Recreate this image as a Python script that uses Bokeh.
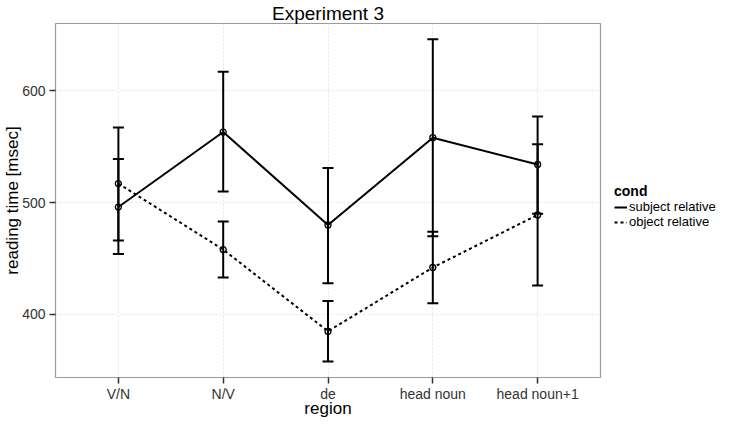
from bokeh.plotting import figure
from bokeh.layouts import row
from bokeh.models import (Range1d, FixedTicker, Whisker, ColumnDataSource, Legend,
                          LegendItem, TeeHead)
from bokeh.embed import file_html
from bokeh.resources import INLINE

# ---- data ----
regions = ["V/N", "N/V", "de", "head noun", "head noun+1"]
conditions = ["subject relative", "object relative"]
subj_mean = [496, 563, 480, 558, 534]
subj_lower = [454, 510, 428, 470, 490]
subj_upper = [539, 617, 531, 646, 577]
obj_mean = [517, 458, 385, 442, 489]
obj_lower = [466, 433, 358, 410, 426]
obj_upper = [567, 483, 412, 474, 552]
y_ticks = [400, 500, 600]

FONT = "Liberation Sans"
xpos = list(range(1, len(regions) + 1))

p = figure(width=603, height=420,
           x_range=Range1d(0.4, len(regions) + 0.6),
           y_range=Range1d(343.7, 660),
           output_backend="svg", toolbar_location=None,
           min_border_left=49, min_border_right=3,
           min_border_top=14, min_border_bottom=38,
           title="Experiment 3")

p.title.align = "center"
p.title.text_font = FONT
p.title.text_font_size = "19px"
p.title.text_font_style = "normal"
p.title.text_color = "black"
p.title.standoff = 0
p.title.offset = 0

p.background_fill_color = "white"
p.border_fill_color = "white"
p.outline_line_color = "#9a9a9a"
p.outline_line_width = 1.2

# axes
p.xaxis.ticker = FixedTicker(ticks=xpos)
p.xaxis.major_label_overrides = {x: r for x, r in zip(xpos, regions)}
p.yaxis.ticker = FixedTicker(ticks=y_ticks)
for ax in (p.xaxis, p.yaxis):
    ax.axis_line_color = None
    ax.major_tick_line_color = "#333333"
    ax.major_tick_line_width = 1.5
    ax.major_tick_out = 6
    ax.major_tick_in = 0
    ax.minor_tick_line_color = None
    ax.major_label_text_font = FONT
    ax.major_label_text_font_size = "14px"
    ax.major_label_text_color = "#333333"
    ax.axis_label_text_font = FONT
    ax.axis_label_text_font_size = "17px"
    ax.axis_label_text_font_style = "normal"
    ax.axis_label_text_color = "black"
p.xaxis.major_label_standoff = 2
p.xaxis.axis_label_standoff = -6
p.yaxis.major_label_standoff = 4
p.yaxis.axis_label_standoff = -3
p.xaxis.axis_label = "region"
p.yaxis.axis_label = "reading time [msec]"

for g in (p.xgrid, p.ygrid):
    g.grid_line_color = "#e4e4e4"
    g.grid_line_width = 1
    g.grid_line_dash = "2 2"

# error bars
for lo, hi in ((subj_lower, subj_upper), (obj_lower, obj_upper)):
    src = ColumnDataSource(dict(x=xpos, lower=lo, upper=hi))
    w = Whisker(source=src, base="x", lower="lower", upper="upper",
                line_color="black", line_width=2,
                upper_head=TeeHead(size=11, line_color="black", line_width=2),
                lower_head=TeeHead(size=11, line_color="black", line_width=2))
    p.add_layout(w)

# lines and points
line_styles = [dict(line_color="black", line_width=2),
               dict(line_color="black", line_width=2, line_dash="3 3")]
p.line(xpos, subj_mean, **line_styles[0])
p.line(xpos, obj_mean, **line_styles[1])
p.scatter(xpos, subj_mean, marker="circle", size=6, fill_color=None,
          line_color="black", line_width=1.3)
p.scatter(xpos, obj_mean, marker="circle", size=6, fill_color=None,
          line_color="black", line_width=1.3)

# legend lives in a narrow companion figure at the right
lf = figure(width=124, height=420, x_range=Range1d(0, 1), y_range=Range1d(0, 1),
            x_axis_type=None, y_axis_type=None,
            output_backend="svg", toolbar_location=None,
            min_border_left=0, min_border_right=0,
            min_border_top=0, min_border_bottom=0)
lf.outline_line_color = None
lf.grid.visible = False
k_subj = lf.line(xpos, subj_mean, **line_styles[0])
k_obj = lf.line(xpos, obj_mean, **line_styles[1])

legend = Legend(items=[LegendItem(label=conditions[0], renderers=[k_subj]),
                       LegendItem(label=conditions[1], renderers=[k_obj])],
                title="cond", location=(11, 148), orientation="vertical",
                margin=0, padding=0, spacing=0,
                border_line_color=None, background_fill_alpha=0,
                glyph_width=13, glyph_height=12, label_height=12,
                label_standoff=2, title_standoff=0,
                label_text_font=FONT, label_text_font_size="13px",
                label_text_color="black",
                title_text_font=FONT, title_text_font_size="14px",
                title_text_font_style="bold", title_text_color="black")
lf.add_layout(legend)

layout = row(p, lf)
open("out.html", "w").write(file_html(layout, INLINE))
